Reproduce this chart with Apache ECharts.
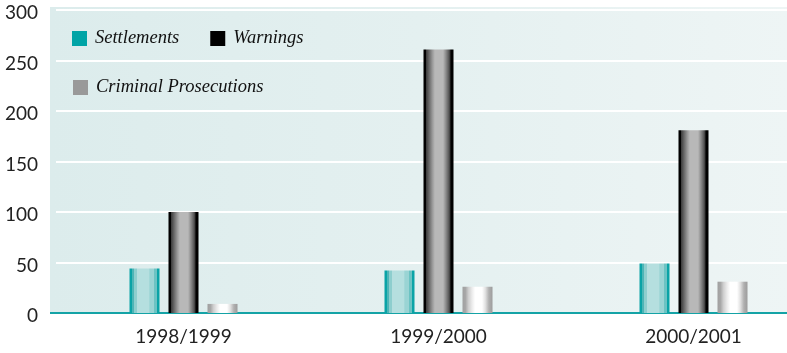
<!DOCTYPE html>
<html>
<head>
<meta charset="utf-8">
<script src="https://cdn.jsdelivr.net/npm/echarts@6/dist/echarts.min.js"></script>
<style>
  html, body { margin: 0; padding: 0; background: #ffffff; }
  #chart { width: 787px; height: 353px; }
</style>
</head>
<body>
<div id="chart"></div>
<script>
// Enforcement actions by year
const categories = ['1998/1999', '1999/2000', '2000/2001'];
const settlements = [44, 42, 49];
const warnings = [100, 261, 181];
const criminalProsecutions = [9, 26, 31];
const yTicks = [0, 50, 100, 150, 200, 250, 300];

// Cylinder-like horizontal shading for each bar series
function shade(stops) {
  return {
    type: 'linear', x: 0, y: 0, x2: 1, y2: 0,
    colorStops: stops.map(([offset, color]) => ({ offset, color }))
  };
}

const settlementsFill = shade([
  [0, '#0aa3a6'], [0.07, '#0aa3a6'], [0.08, '#4db5b6'], [0.14, '#4db5b6'],
  [0.15, '#8dcece'], [0.24, '#8dcece'], [0.25, '#b5dfdf'], [0.66, '#b5dfdf'],
  [0.67, '#9ad4d4'], [0.8, '#9ad4d4'], [0.81, '#6cc3c3'], [0.9, '#6cc3c3'],
  [0.91, '#0aa3a6'], [1, '#0aa3a6']
]);
const warningsFill = shade([
  [0, '#000000'], [0.08, '#000000'], [0.09, '#3c3c3c'], [0.2, '#6e6e6e'],
  [0.3, '#9a9a9a'], [0.38, '#b8b8b8'], [0.65, '#b8b8b8'], [0.75, '#8a8a8a'],
  [0.86, '#505050'], [0.92, '#000000'], [1, '#000000']
]);
const criminalFill = shade([
  [0, '#a0a0a0'], [0.1, '#a8a8a8'], [0.2, '#cfcfcf'], [0.32, '#ececec'],
  [0.42, '#ffffff'], [0.65, '#ffffff'], [0.76, '#e2e2e2'], [0.88, '#b0b0b0'],
  [1, '#9c9c9c']
]);

const chart = echarts.init(document.getElementById('chart'), null, { renderer: 'canvas' });

const axisFont = { fontFamily: 'Lato, "Open Sans", sans-serif', fontSize: 19, color: '#222222' };
const legendFont = { fontFamily: '"Liberation Serif", "DejaVu Serif", serif', fontStyle: 'italic', fontSize: 18.5, color: '#111111', padding: [0, 0, 0, 3] };

chart.setOption({
  animation: false,
  backgroundColor: '#ffffff',
  graphic: [
    {
      type: 'rect', z: -10, silent: true,
      shape: { x: 50, y: 7, width: 737, height: 306 },
      style: {
        fill: {
          type: 'linear', x: 0, y: 0, x2: 1, y2: 0,
          colorStops: [
            { offset: 0, color: '#dcecec' },
            { offset: 0.5, color: '#e4f0f0' },
            { offset: 1, color: '#eef5f5' }
          ]
        }
      }
    },
    {
      type: 'rect', z: 10, silent: true,
      shape: { x: 50, y: 312, width: 8, height: 2 },
      style: { fill: '#14a3a6' }
    }
  ],
  grid: { left: 56, top: 10, bottom: 40, width: 765, containLabel: false, outerBoundsMode: 'none' },
  legend: [
    {
      data: [
        { name: 'Settlements', itemStyle: { color: '#00a4a6' } },
        { name: 'Warnings', itemStyle: { color: '#000000' } }
      ],
      left: 72, top: 29, orient: 'horizontal', icon: 'rect',
      itemWidth: 15, itemHeight: 15, itemGap: 31, padding: 0,
      textStyle: legendFont
    },
    {
      data: [
        { name: 'Criminal Prosecutions', itemStyle: { color: '#999999' } }
      ],
      left: 73, top: 78, orient: 'horizontal', icon: 'rect',
      itemWidth: 15, itemHeight: 15, padding: 0,
      textStyle: legendFont
    }
  ],
  xAxis: {
    type: 'category',
    data: categories,
    axisLine: { show: true, lineStyle: { color: '#14a3a6', width: 2 } },
    axisTick: { show: false },
    axisLabel: Object.assign({ margin: 14 }, axisFont),
    splitLine: { show: false }
  },
  yAxis: {
    type: 'value',
    min: yTicks[0],
    max: yTicks[yTicks.length - 1],
    interval: yTicks[1] - yTicks[0],
    axisLine: { show: false },
    axisTick: { show: false },
    axisLabel: {
      margin: 18,
      formatter: '{v|{value}}',
      rich: { v: Object.assign({ padding: [6, 0, 0, 0] }, axisFont) }
    },
    splitLine: { show: true, lineStyle: { color: '#ffffff', width: 2 } }
  },
  series: [
    {
      name: 'Settlements', type: 'bar', data: settlements,
      barWidth: 30, barGap: '30%',
      itemStyle: { color: settlementsFill }
    },
    {
      name: 'Warnings', type: 'bar', data: warnings,
      barWidth: 30, barGap: '30%',
      itemStyle: { color: warningsFill }
    },
    {
      name: 'Criminal Prosecutions', type: 'bar', data: criminalProsecutions,
      barWidth: 30, barGap: '30%',
      itemStyle: { color: criminalFill }
    }
  ]
});
</script>
</body>
</html>
